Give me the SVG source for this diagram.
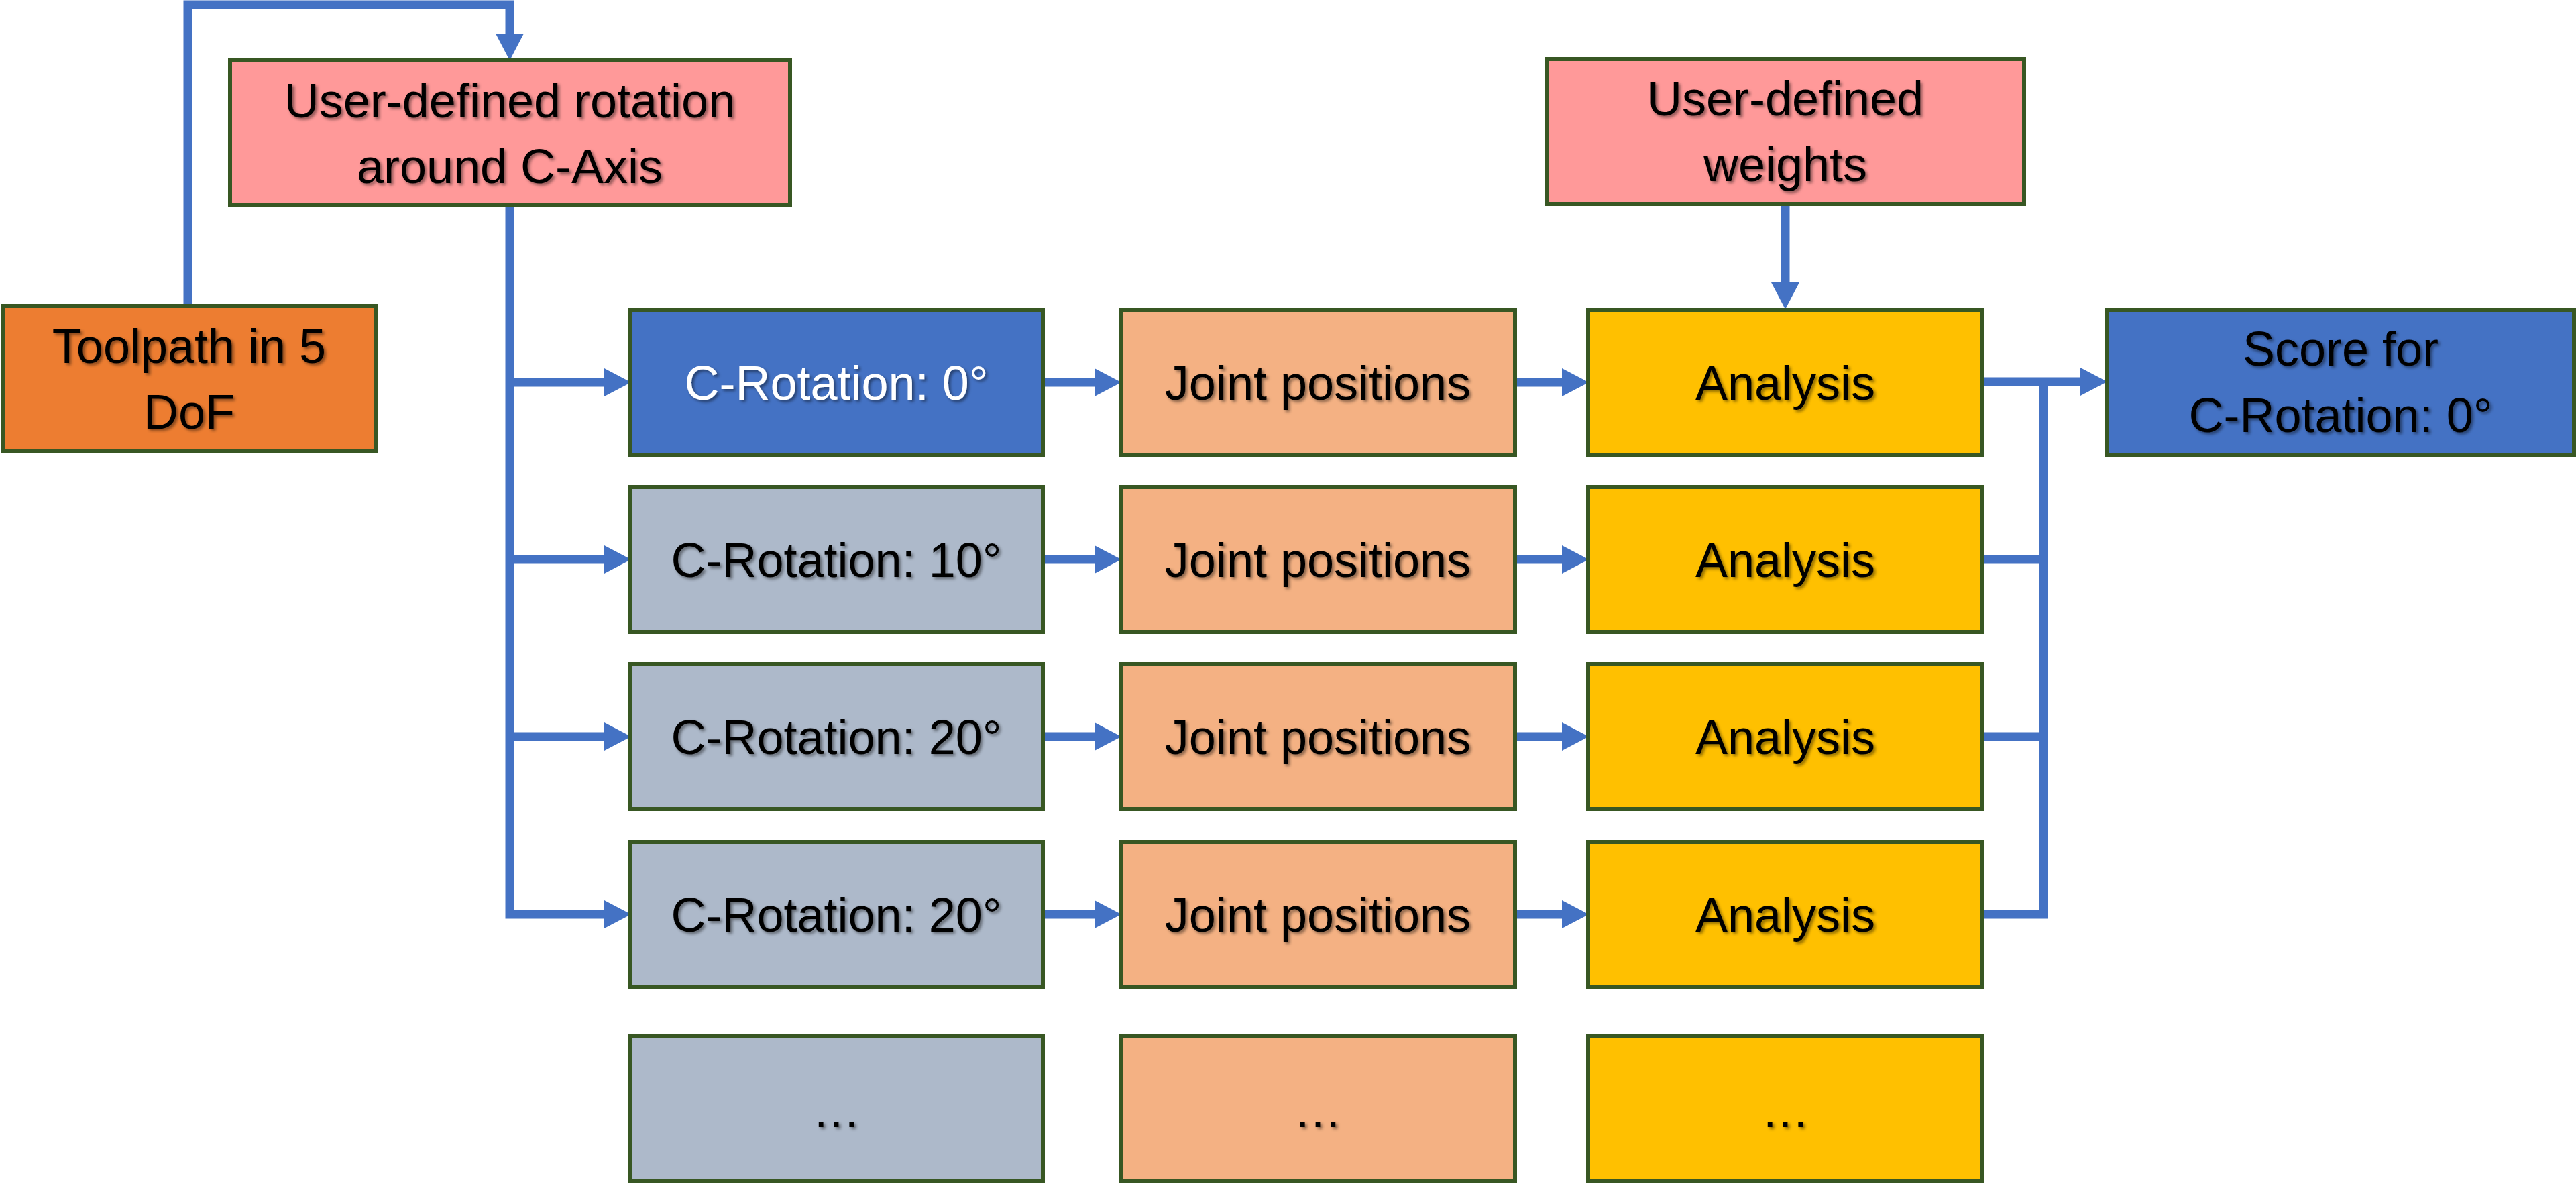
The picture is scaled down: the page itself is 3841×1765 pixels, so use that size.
<svg xmlns="http://www.w3.org/2000/svg" width="3841" height="1765" viewBox="0 0 3841 1765">
<style>
.box{stroke:#385723;stroke-width:6}
.orange{fill:#ED7D31}.pink{fill:#FF9999}.blue{fill:#4472C4}.gray{fill:#ADB9CA}.peach{fill:#F4B183}.gold{fill:#FFC000}
text{font-family:"Liberation Sans",Arial,sans-serif;font-size:72px;text-anchor:middle;fill:#000;filter:url(#sh)}
text.w{fill:#fff}
.con{fill:none;stroke:#4472C4;stroke-width:13}
</style>
<defs>
<filter id="sh" x="-10%" y="-20%" width="130%" height="150%">
<feDropShadow dx="3" dy="3" stdDeviation="2" flood-color="#000" flood-opacity="0.45"/>
</filter>
<marker id="ah" markerUnits="userSpaceOnUse" markerWidth="42" markerHeight="42" refX="0" refY="21" orient="auto">
<path d="M0,0 L40,21 L0,42 Z" fill="#4472C4"/>
</marker>
</defs>
<g id="connectors">
<path class="con" d="M280,456 V7 H760 V50" marker-end="url(#ah)"/>
<path class="con" d="M760,306 V1363 H901" marker-end="url(#ah)"/>
<path class="con" d="M760,570 H901" marker-end="url(#ah)"/>
<path class="con" d="M760,834 H901" marker-end="url(#ah)"/>
<path class="con" d="M760,1098 H901" marker-end="url(#ah)"/>
<path class="con" d="M1555,570 H1632" marker-end="url(#ah)"/>
<path class="con" d="M1555,834 H1632" marker-end="url(#ah)"/>
<path class="con" d="M1555,1098 H1632" marker-end="url(#ah)"/>
<path class="con" d="M1555,1363 H1632" marker-end="url(#ah)"/>
<path class="con" d="M2259,570 H2329" marker-end="url(#ah)"/>
<path class="con" d="M2259,834 H2329" marker-end="url(#ah)"/>
<path class="con" d="M2259,1098 H2329" marker-end="url(#ah)"/>
<path class="con" d="M2259,1363 H2329" marker-end="url(#ah)"/>
<path class="con" d="M2662,304 V421" marker-end="url(#ah)"/>
<path class="con" d="M2956,569 H3102" marker-end="url(#ah)"/>
<path class="con" d="M3047,569 V1369"/>
<path class="con" d="M2956,834 H3047"/>
<path class="con" d="M2956,1098 H3047"/>
<path class="con" d="M2956,1363 H3053"/>
</g>
<g id="toolpath"><rect class="box orange" x="4" y="456" width="557" height="216"/><text x="282" y="541">Toolpath in 5</text><text x="282" y="639">DoF</text></g>
<g id="rotation"><rect class="box pink" x="343" y="90" width="835" height="216"/><text x="760" y="175">User-defined rotation</text><text x="760" y="273">around C-Axis</text></g>
<g id="weights"><rect class="box pink" x="2306" y="88" width="712" height="216"/><text x="2662" y="172">User-defined</text><text x="2662" y="270">weights</text></g>
<g id="score"><rect class="box blue" x="3141" y="462" width="697" height="216"/><text x="3490" y="545">Score for</text><text x="3490" y="644">C-Rotation: 0°</text></g>
<g id="crot0"><rect class="box blue" x="940" y="462" width="615" height="216"/><text class="w" x="1247" y="596">C-Rotation: 0°</text></g>
<g id="joint1"><rect class="box peach" x="1671" y="462" width="588" height="216"/><text x="1965" y="596">Joint positions</text></g>
<g id="analysis1"><rect class="box gold" x="2368" y="462" width="588" height="216"/><text x="2662" y="596">Analysis</text></g>
<g id="crot10"><rect class="box gray" x="940" y="726" width="615" height="216"/><text x="1247" y="860">C-Rotation: 10°</text></g>
<g id="joint2"><rect class="box peach" x="1671" y="726" width="588" height="216"/><text x="1965" y="860">Joint positions</text></g>
<g id="analysis2"><rect class="box gold" x="2368" y="726" width="588" height="216"/><text x="2662" y="860">Analysis</text></g>
<g id="crot20a"><rect class="box gray" x="940" y="990" width="615" height="216"/><text x="1247" y="1124">C-Rotation: 20°</text></g>
<g id="joint3"><rect class="box peach" x="1671" y="990" width="588" height="216"/><text x="1965" y="1124">Joint positions</text></g>
<g id="analysis3"><rect class="box gold" x="2368" y="990" width="588" height="216"/><text x="2662" y="1124">Analysis</text></g>
<g id="crot20b"><rect class="box gray" x="940" y="1255" width="615" height="216"/><text x="1247" y="1389">C-Rotation: 20°</text></g>
<g id="joint4"><rect class="box peach" x="1671" y="1255" width="588" height="216"/><text x="1965" y="1389">Joint positions</text></g>
<g id="analysis4"><rect class="box gold" x="2368" y="1255" width="588" height="216"/><text x="2662" y="1389">Analysis</text></g>
<g id="crot-more"><rect class="box gray" x="940" y="1545" width="615" height="216"/><text x="1247" y="1680">…</text></g>
<g id="joint-more"><rect class="box peach" x="1671" y="1545" width="588" height="216"/><text x="1965" y="1680">…</text></g>
<g id="analysis-more"><rect class="box gold" x="2368" y="1545" width="588" height="216"/><text x="2662" y="1680">…</text></g>
</svg>
